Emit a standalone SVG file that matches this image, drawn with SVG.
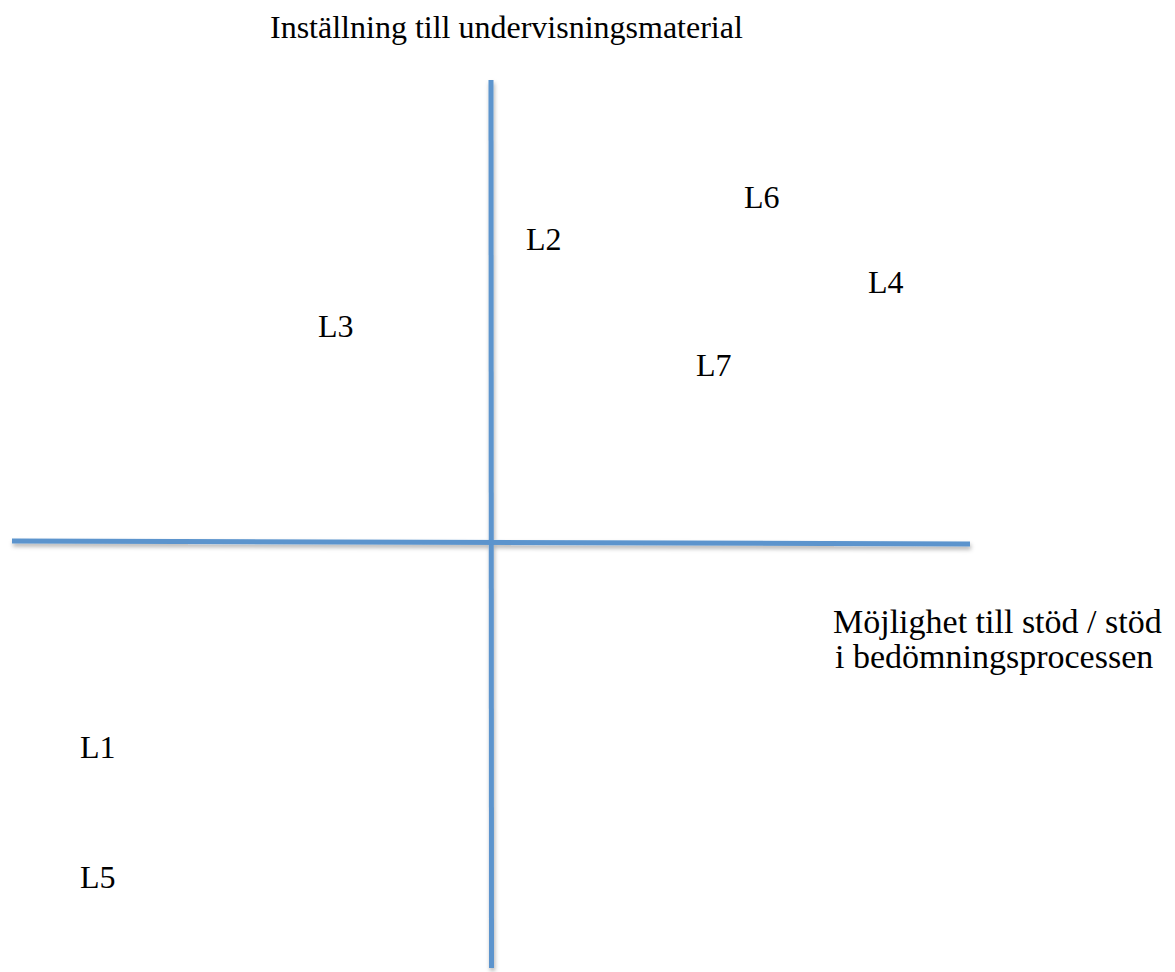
<svg xmlns="http://www.w3.org/2000/svg" width="1175" height="972" viewBox="0 0 1175 972">
<style>
.lbl{font-family:"Liberation Serif","Times New Roman",serif;font-size:32px;fill:#000}
.big{font-size:34px}
.axis{stroke:#5B94CD;stroke-width:5;fill:none}
</style>
<defs>
<filter id="sh" x="-5%" y="-5%" width="110%" height="110%">
<feDropShadow dx="1" dy="3" stdDeviation="2" flood-color="#000" flood-opacity="0.3"/>
</filter>
</defs>
<rect width="1175" height="972" fill="#fff"/>
<g id="connectors" filter="url(#sh)">
<line class="axis" x1="491" y1="80" x2="491.5" y2="968"/>
<line class="axis" x1="12" y1="541" x2="970" y2="544"/>
</g>
<g id="title"><text class="lbl" x="270" y="38">Inställning till undervisningsmaterial</text></g>
<g id="xlabel"><text class="lbl big" x="833" y="633">Möjlighet till stöd / stöd</text><text class="lbl big" x="835" y="668">i bedömningsprocessen</text></g>
<g id="L6"><text class="lbl" x="744" y="208">L6</text></g>
<g id="L2"><text class="lbl" x="526" y="250">L2</text></g>
<g id="L4"><text class="lbl" x="868" y="293">L4</text></g>
<g id="L3"><text class="lbl" x="318" y="337">L3</text></g>
<g id="L7"><text class="lbl" x="696" y="376">L7</text></g>
<g id="L1"><text class="lbl" x="80" y="758">L1</text></g>
<g id="L5"><text class="lbl" x="80" y="888">L5</text></g>
</svg>
